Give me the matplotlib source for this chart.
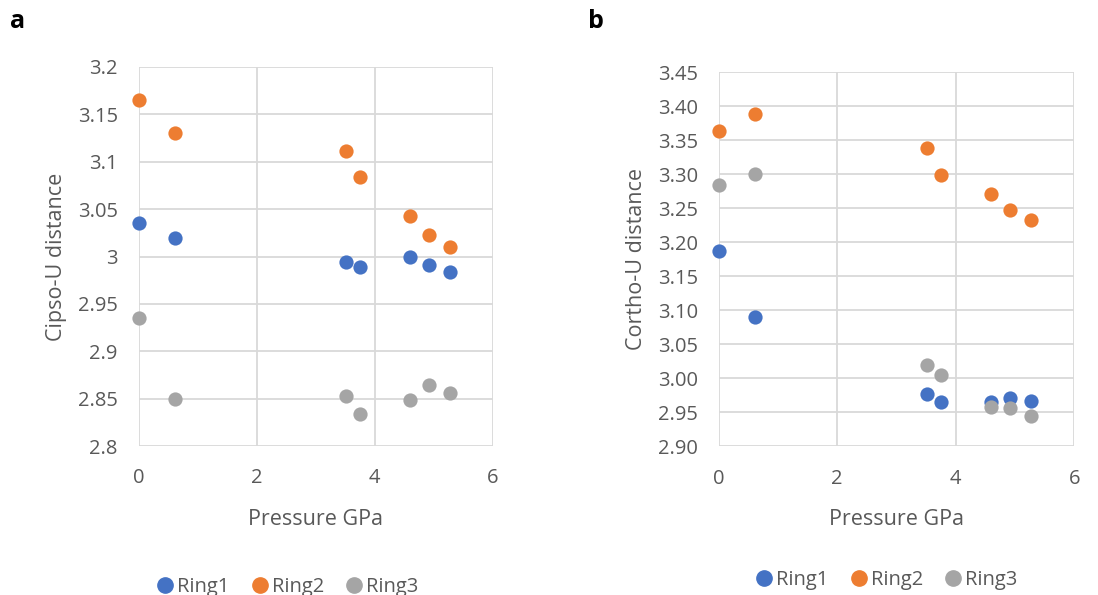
import numpy as np
import matplotlib.pyplot as plt
from matplotlib.lines import Line2D

plt.rcParams['font.family'] = ['Open Sans', 'DejaVu Sans']

# pressure (GPa), same for both panels
pressure = [0, 0.62, 3.52, 3.75, 4.59, 4.92, 5.27]

# panel a: Cipso-U distance
a_ring1 = [3.035, 3.020, 2.994, 2.989, 3.000, 2.991, 2.984]
a_ring2 = [3.165, 3.130, 3.111, 3.084, 3.043, 3.023, 3.010]
a_ring3 = [2.935, 2.850, 2.853, 2.834, 2.849, 2.864, 2.856]

# panel b: Cortho-U distance
b_ring1 = [3.187, 3.090, 2.977, 2.965, 2.965, 2.971, 2.967]
b_ring2 = [3.364, 3.389, 3.339, 3.299, 3.271, 3.248, 3.233]
b_ring3 = [3.285, 3.300, 3.019, 3.005, 2.958, 2.956, 2.944]

series_names = ['Ring1', 'Ring2', 'Ring3']
colors = ['#4472C4', '#ED7D31', '#A5A5A5']
grid_c = '#D9D9D9'
text_c = '#595959'

W, H = 1098, 595
fig = plt.figure(figsize=(W/100, H/100), dpi=100)

def box(l, r, t, b):
    return [l/W, 1-b/H, (r-l)/W, (b-t)/H]

ax_a = fig.add_axes(box(138.7, 492.7, 67, 446))
ax_b = fig.add_axes(box(718.7, 1074.3, 72.3, 446.3))

def style(ax, ylim, yticks, fmt, ylabel):
    ax.set_xlim(0, 6)
    ax.set_ylim(*ylim)
    ax.set_xticks([0, 2, 4, 6])
    ax.set_yticks(yticks)
    ax.set_yticklabels([fmt(v) for v in yticks])
    ax.grid(True, color=grid_c, linewidth=1.3)
    ax.set_axisbelow(True)
    for s in ax.spines.values():
        s.set_visible(False)
    ax.tick_params(length=0, labelsize=14.5, colors=text_c)
    ax.tick_params(axis='y', pad=15)
    ax.tick_params(axis='x', pad=16)
    ax.set_xlabel('Pressure GPa', fontsize=15.5, color=text_c, labelpad=15)
    ax.set_ylabel(ylabel, fontsize=15.5, color=text_c, labelpad=8)

def fmt_a(v):
    return ('%.2f' % v).rstrip('0').rstrip('.')

yt_a = np.round(np.arange(2.8, 3.2001, 0.05), 2)
yt_b = np.round(np.arange(2.9, 3.4501, 0.05), 2)
style(ax_a, (2.8, 3.2), yt_a, fmt_a, 'Cipso-U distance')
style(ax_b, (2.9, 3.45), yt_b, lambda v: '%.2f' % v, 'Cortho-U distance')

for ys, c in zip([a_ring1, a_ring2, a_ring3], colors):
    ax_a.scatter(pressure, ys, s=105, color=c, zorder=3, clip_on=False, linewidths=0)
for ys, c in zip([b_ring1, b_ring2, b_ring3], colors):
    ax_b.scatter(pressure, ys, s=105, color=c, zorder=3, clip_on=False, linewidths=0)

handles = [Line2D([], [], marker='o', linestyle='', color=c, markersize=11) for c in colors]
fig.legend(handles, series_names, loc='center', bbox_to_anchor=(286/W, 1-587/H),
           ncol=3, frameon=False, fontsize=14.5, handletextpad=0.0, columnspacing=0.9,
           handlelength=1.2, labelcolor=text_c)
fig.legend(handles, series_names, loc='center', bbox_to_anchor=(885/W, 1-580/H),
           ncol=3, frameon=False, fontsize=14.5, handletextpad=0.0, columnspacing=0.9,
           handlelength=1.2, labelcolor=text_c)

fig.text(10/W, 1-22/H, 'a', fontsize=18, fontweight='bold', va='center', ha='left')
fig.text(588/W, 1-22/H, 'b', fontsize=18, fontweight='bold', va='center', ha='left')

fig.savefig('out.png', dpi=100)
